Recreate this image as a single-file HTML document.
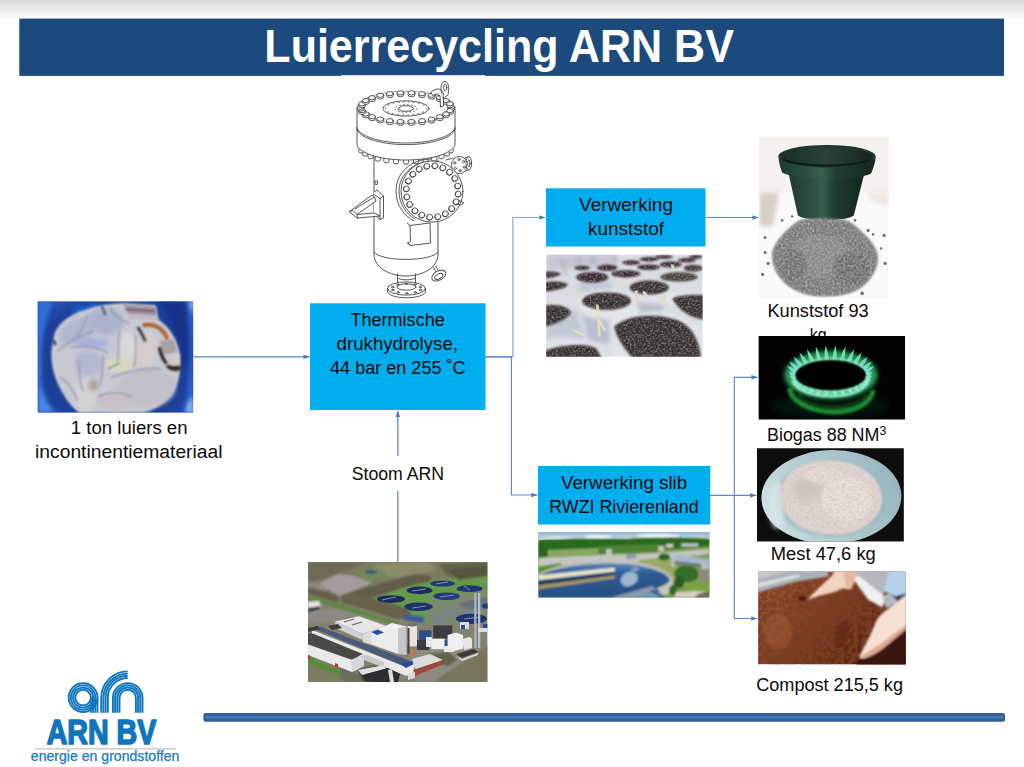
<!DOCTYPE html>
<html lang="nl">
<head>
<meta charset="utf-8">
<title>Luierrecycling ARN BV</title>
<style>
html,body{margin:0;padding:0;background:#fff;}
body{width:1024px;height:767px;overflow:hidden;font-family:"Liberation Sans",sans-serif;}
svg{display:block;}
svg text{font-family:"Liberation Sans",sans-serif;}
</style>
</head>
<body>
<svg width="1024" height="767" viewBox="0 0 1024 767">
<defs>
<linearGradient id="topg" x1="0" y1="0" x2="0" y2="1">
<stop offset="0" stop-color="#d9d9d9"/><stop offset="0.5" stop-color="#ececec"/><stop offset="1" stop-color="#ffffff"/>
</linearGradient>
<linearGradient id="barg" x1="0" y1="0" x2="0" y2="1">
<stop offset="0" stop-color="#2f588a"/><stop offset="0.25" stop-color="#34619a"/><stop offset="0.5" stop-color="#4a80c0"/><stop offset="0.75" stop-color="#34619a"/><stop offset="1" stop-color="#2f588a"/>
</linearGradient>
<marker id="ah" viewBox="0 0 8 6" refX="8" refY="3" markerWidth="6.4" markerHeight="4.6" markerUnits="userSpaceOnUse" orient="auto">
<path d="M0,0 L8,3 L0,6 Z" fill="#4a7ebb"/>
</marker>
<filter id="b1" x="-20%" y="-20%" width="140%" height="140%"><feGaussianBlur stdDeviation="1"/></filter>
<filter id="b2" x="-20%" y="-20%" width="140%" height="140%"><feGaussianBlur stdDeviation="2"/></filter>
<filter id="b3" x="-30%" y="-30%" width="160%" height="160%"><feGaussianBlur stdDeviation="3.5"/></filter>
<filter id="b05" x="-20%" y="-20%" width="140%" height="140%"><feGaussianBlur stdDeviation="0.5"/></filter>
<filter id="b6" x="-40%" y="-40%" width="180%" height="180%"><feGaussianBlur stdDeviation="6"/></filter>
</defs>
<rect x="0" y="0" width="1024" height="767" fill="#ffffff"/>
<rect x="0" y="0" width="1024" height="19" fill="url(#topg)"/>
<g id="banner"><rect x="19.3" y="18.6" width="984.7" height="57.3" fill="#1c4a7c"/>
<text x="499.1" y="62" font-size="45.8" font-weight="bold" fill="#ffffff" text-anchor="middle" textLength="469.5" lengthAdjust="spacingAndGlyphs" >Luierrecycling ARN BV</text></g>
<rect x="341" y="75.2" width="144" height="228" fill="#ffffff"/>
<g id="vessel" fill="none" stroke="#444444" stroke-width="0.9" stroke-linejoin="round" stroke-linecap="round">
<path d="M374,156 V254 C374,268 390,276 406,276 C422,276 438,268 438,254 V222" fill="#fff"/>
<path d="M374,252 C380,262 432,262 438,252"/>
<path d="M438,160 V166"/>
<rect x="375.5" y="181" width="2" height="3.4"/>
<path d="M397.5,274 V283 M415.5,274 V283 M397.5,278 C401,280.5 412,280.5 415.5,278" />
<ellipse cx="406.5" cy="288.5" rx="19" ry="6.6" fill="#fff"/>
<path d="M387.5,288.5 V291 C387.5,300 425.5,300 425.5,291 V288.5"/>
<ellipse cx="406.5" cy="287" rx="9.5" ry="3.2"/>
<ellipse cx="420.4" cy="289.9" rx="1.3" ry="0.7"/>
<ellipse cx="415.2" cy="292.3" rx="1.3" ry="0.7"/>
<ellipse cx="406.7" cy="293.3" rx="1.3" ry="0.7"/>
<ellipse cx="398.1" cy="292.4" rx="1.3" ry="0.7"/>
<ellipse cx="392.8" cy="290.0" rx="1.3" ry="0.7"/>
<ellipse cx="392.6" cy="287.1" rx="1.3" ry="0.7"/>
<ellipse cx="397.8" cy="284.7" rx="1.3" ry="0.7"/>
<ellipse cx="406.3" cy="283.7" rx="1.3" ry="0.7"/>
<ellipse cx="414.9" cy="284.6" rx="1.3" ry="0.7"/>
<ellipse cx="420.2" cy="287.0" rx="1.3" ry="0.7"/>
<path d="M433,267 L436,272 M435.5,266 L438.5,271"/>
<ellipse cx="438.8" cy="275.6" rx="7.6" ry="4.6" transform="rotate(-28 438.8 275.6)" fill="#fff"/>
<ellipse cx="438.8" cy="276.4" rx="4.5" ry="2.4" transform="rotate(-28 438.8 276.4)"/>
<path d="M448.0,149.2 v2.2 a2.6,1.6 0 0 0 5.2,0 v-2.2" fill="#fff"/>
<path d="M444.4,152.3 v2.2 a2.6,1.6 0 0 0 5.2,0 v-2.2" fill="#fff"/>
<path d="M438.8,155.1 v2.2 a2.6,1.6 0 0 0 5.2,0 v-2.2" fill="#fff"/>
<path d="M431.6,157.4 v2.2 a2.6,1.6 0 0 0 5.2,0 v-2.2" fill="#fff"/>
<path d="M423.0,159.1 v2.2 a2.6,1.6 0 0 0 5.2,0 v-2.2" fill="#fff"/>
<path d="M413.4,160.1 v2.2 a2.6,1.6 0 0 0 5.2,0 v-2.2" fill="#fff"/>
<path d="M403.4,160.5 v2.2 a2.6,1.6 0 0 0 5.2,0 v-2.2" fill="#fff"/>
<path d="M393.4,160.1 v2.2 a2.6,1.6 0 0 0 5.2,0 v-2.2" fill="#fff"/>
<path d="M383.8,159.1 v2.2 a2.6,1.6 0 0 0 5.2,0 v-2.2" fill="#fff"/>
<path d="M375.2,157.4 v2.2 a2.6,1.6 0 0 0 5.2,0 v-2.2" fill="#fff"/>
<path d="M368.0,155.1 v2.2 a2.6,1.6 0 0 0 5.2,0 v-2.2" fill="#fff"/>
<path d="M362.4,152.3 v2.2 a2.6,1.6 0 0 0 5.2,0 v-2.2" fill="#fff"/>
<path d="M358.8,149.2 v2.2 a2.6,1.6 0 0 0 5.2,0 v-2.2" fill="#fff"/>
<path d="M357,108 V144 C357,152 378,160 406,160 C434,160 455,152 455,144 V108" fill="#fff"/>
<path d="M357,127 C357,135 378,143 406,143 C434,143 455,135 455,127"/>
<path d="M357,128.6 C357,136.6 378,144.6 406,144.6 C434,144.6 455,136.6 455,128.6"/>
<ellipse cx="406" cy="107.5" rx="48.6" ry="16.2" fill="#fff" stroke-width="0.5"/>
<ellipse cx="406" cy="108.5" rx="23" ry="7.6"/>
<ellipse cx="406" cy="108.5" rx="20.5" ry="6.6" stroke-dasharray="0.8 4.2"/>
<path d="M398,108.5 L402,105.8 L410,105.8 L414,108.5 L410,111.2 L402,111.2 Z"/>
<ellipse cx="406" cy="108.5" rx="11" ry="3.8" stroke-dasharray="0.8 3"/>
<path d="M447.9,107.2 v1.8 a3.4,2.1 0 0 0 6.8,0 v-1.8" fill="#fff"/><ellipse cx="451.3" cy="107.2" rx="3.4" ry="2.1" fill="#fff"/>
<path d="M446.6,110.6 v1.8 a3.4,2.1 0 0 0 6.8,0 v-1.8" fill="#fff"/><ellipse cx="450.0" cy="110.6" rx="3.4" ry="2.1" fill="#fff"/>
<path d="M442.7,113.9 v1.8 a3.4,2.1 0 0 0 6.8,0 v-1.8" fill="#fff"/><ellipse cx="446.1" cy="113.9" rx="3.4" ry="2.1" fill="#fff"/>
<path d="M436.5,116.7 v1.8 a3.4,2.1 0 0 0 6.8,0 v-1.8" fill="#fff"/><ellipse cx="439.9" cy="116.7" rx="3.4" ry="2.1" fill="#fff"/>
<path d="M428.3,119.1 v1.8 a3.4,2.1 0 0 0 6.8,0 v-1.8" fill="#fff"/><ellipse cx="431.7" cy="119.1" rx="3.4" ry="2.1" fill="#fff"/>
<path d="M418.7,120.7 v1.8 a3.4,2.1 0 0 0 6.8,0 v-1.8" fill="#fff"/><ellipse cx="422.1" cy="120.7" rx="3.4" ry="2.1" fill="#fff"/>
<path d="M408.1,121.5 v1.8 a3.4,2.1 0 0 0 6.8,0 v-1.8" fill="#fff"/><ellipse cx="411.5" cy="121.5" rx="3.4" ry="2.1" fill="#fff"/>
<path d="M397.1,121.5 v1.8 a3.4,2.1 0 0 0 6.8,0 v-1.8" fill="#fff"/><ellipse cx="400.5" cy="121.5" rx="3.4" ry="2.1" fill="#fff"/>
<path d="M386.5,120.7 v1.8 a3.4,2.1 0 0 0 6.8,0 v-1.8" fill="#fff"/><ellipse cx="389.9" cy="120.7" rx="3.4" ry="2.1" fill="#fff"/>
<path d="M376.9,119.1 v1.8 a3.4,2.1 0 0 0 6.8,0 v-1.8" fill="#fff"/><ellipse cx="380.3" cy="119.1" rx="3.4" ry="2.1" fill="#fff"/>
<path d="M368.7,116.7 v1.8 a3.4,2.1 0 0 0 6.8,0 v-1.8" fill="#fff"/><ellipse cx="372.1" cy="116.7" rx="3.4" ry="2.1" fill="#fff"/>
<path d="M362.5,113.9 v1.8 a3.4,2.1 0 0 0 6.8,0 v-1.8" fill="#fff"/><ellipse cx="365.9" cy="113.9" rx="3.4" ry="2.1" fill="#fff"/>
<path d="M358.6,110.6 v1.8 a3.4,2.1 0 0 0 6.8,0 v-1.8" fill="#fff"/><ellipse cx="362.0" cy="110.6" rx="3.4" ry="2.1" fill="#fff"/>
<path d="M357.3,107.2 v1.8 a3.4,2.1 0 0 0 6.8,0 v-1.8" fill="#fff"/><ellipse cx="360.7" cy="107.2" rx="3.4" ry="2.1" fill="#fff"/>
<path d="M358.6,103.8 v1.8 a3.4,2.1 0 0 0 6.8,0 v-1.8" fill="#fff"/><ellipse cx="362.0" cy="103.8" rx="3.4" ry="2.1" fill="#fff"/>
<path d="M362.5,100.5 v1.8 a3.4,2.1 0 0 0 6.8,0 v-1.8" fill="#fff"/><ellipse cx="365.9" cy="100.5" rx="3.4" ry="2.1" fill="#fff"/>
<path d="M368.7,97.7 v1.8 a3.4,2.1 0 0 0 6.8,0 v-1.8" fill="#fff"/><ellipse cx="372.1" cy="97.7" rx="3.4" ry="2.1" fill="#fff"/>
<path d="M376.9,95.3 v1.8 a3.4,2.1 0 0 0 6.8,0 v-1.8" fill="#fff"/><ellipse cx="380.3" cy="95.3" rx="3.4" ry="2.1" fill="#fff"/>
<path d="M386.5,93.7 v1.8 a3.4,2.1 0 0 0 6.8,0 v-1.8" fill="#fff"/><ellipse cx="389.9" cy="93.7" rx="3.4" ry="2.1" fill="#fff"/>
<path d="M397.1,92.9 v1.8 a3.4,2.1 0 0 0 6.8,0 v-1.8" fill="#fff"/><ellipse cx="400.5" cy="92.9" rx="3.4" ry="2.1" fill="#fff"/>
<path d="M408.1,92.9 v1.8 a3.4,2.1 0 0 0 6.8,0 v-1.8" fill="#fff"/><ellipse cx="411.5" cy="92.9" rx="3.4" ry="2.1" fill="#fff"/>
<path d="M418.7,93.7 v1.8 a3.4,2.1 0 0 0 6.8,0 v-1.8" fill="#fff"/><ellipse cx="422.1" cy="93.7" rx="3.4" ry="2.1" fill="#fff"/>
<path d="M428.3,95.3 v1.8 a3.4,2.1 0 0 0 6.8,0 v-1.8" fill="#fff"/><ellipse cx="431.7" cy="95.3" rx="3.4" ry="2.1" fill="#fff"/>
<path d="M436.5,97.7 v1.8 a3.4,2.1 0 0 0 6.8,0 v-1.8" fill="#fff"/><ellipse cx="439.9" cy="97.7" rx="3.4" ry="2.1" fill="#fff"/>
<path d="M442.7,100.5 v1.8 a3.4,2.1 0 0 0 6.8,0 v-1.8" fill="#fff"/><ellipse cx="446.1" cy="100.5" rx="3.4" ry="2.1" fill="#fff"/>
<path d="M446.6,103.8 v1.8 a3.4,2.1 0 0 0 6.8,0 v-1.8" fill="#fff"/><ellipse cx="450.0" cy="103.8" rx="3.4" ry="2.1" fill="#fff"/>
<path d="M431,92 C436,88 441,88 443,92 L443.5,106 L440.5,107 L440,96 C438,93 436,93.5 433,95.5 Z" fill="#fff"/>
<path d="M441.5,93 C440,86 442,81.5 445,81.5 C448.5,81.5 449.5,88 448,95 L445,97" />
<ellipse cx="445.2" cy="87.5" rx="1.6" ry="3.4"/>
<path d="M446,160 L453,158 M448,171 L454,172"/>
<ellipse cx="459.5" cy="165" rx="8" ry="8.6" fill="#fff"/>
<circle cx="464.3" cy="167.2" r="1.1"/>
<circle cx="460.1" cy="170.6" r="1.1"/>
<circle cx="455.4" cy="168.4" r="1.1"/>
<circle cx="454.7" cy="162.8" r="1.1"/>
<circle cx="458.9" cy="159.4" r="1.1"/>
<circle cx="463.6" cy="161.6" r="1.1"/>
<path d="M465,158 L468,157 M466,171 L468.5,170"/>
<ellipse cx="468.8" cy="163.4" rx="2.8" ry="6.6" fill="#fff"/>
<ellipse cx="468.8" cy="163.4" rx="1.2" ry="3.6"/>
<path d="M431,159 C412,159 396,172 396,191 C396,205 404,216 414,221"/>
<path d="M431,161.5 C414,161.5 399,174 399,191 C399,204 406,214 415,219"/>
<ellipse cx="432" cy="191.5" rx="31" ry="30.6" fill="#fff"/>
<circle cx="458.2" cy="194.1" r="3" fill="#fff"/><path d="M456.0,192.5 a2.6,2.6 0 0 0 3.6,3.8"/>
<circle cx="456.1" cy="201.9" r="3" fill="#fff"/><path d="M453.9,200.3 a2.6,2.6 0 0 0 3.6,3.8"/>
<circle cx="451.7" cy="208.7" r="3" fill="#fff"/><path d="M449.5,207.1 a2.6,2.6 0 0 0 3.6,3.8"/>
<circle cx="445.4" cy="213.8" r="3" fill="#fff"/><path d="M443.2,212.2 a2.6,2.6 0 0 0 3.6,3.8"/>
<circle cx="437.8" cy="216.7" r="3" fill="#fff"/><path d="M435.6,215.1 a2.6,2.6 0 0 0 3.6,3.8"/>
<circle cx="429.7" cy="217.2" r="3" fill="#fff"/><path d="M427.5,215.6 a2.6,2.6 0 0 0 3.6,3.8"/>
<circle cx="421.8" cy="215.1" r="3" fill="#fff"/><path d="M419.6,213.5 a2.6,2.6 0 0 0 3.6,3.8"/>
<circle cx="415.0" cy="210.8" r="3" fill="#fff"/><path d="M412.8,209.2 a2.6,2.6 0 0 0 3.6,3.8"/>
<circle cx="409.8" cy="204.5" r="3" fill="#fff"/><path d="M407.6,202.9 a2.6,2.6 0 0 0 3.6,3.8"/>
<circle cx="406.9" cy="197.0" r="3" fill="#fff"/><path d="M404.7,195.4 a2.6,2.6 0 0 0 3.6,3.8"/>
<circle cx="406.4" cy="188.9" r="3" fill="#fff"/><path d="M404.2,187.3 a2.6,2.6 0 0 0 3.6,3.8"/>
<circle cx="408.5" cy="181.1" r="3" fill="#fff"/><path d="M406.3,179.5 a2.6,2.6 0 0 0 3.6,3.8"/>
<circle cx="412.9" cy="174.3" r="3" fill="#fff"/><path d="M410.7,172.7 a2.6,2.6 0 0 0 3.6,3.8"/>
<circle cx="419.2" cy="169.2" r="3" fill="#fff"/><path d="M417.0,167.6 a2.6,2.6 0 0 0 3.6,3.8"/>
<circle cx="426.8" cy="166.3" r="3" fill="#fff"/><path d="M424.6,164.7 a2.6,2.6 0 0 0 3.6,3.8"/>
<circle cx="434.9" cy="165.8" r="3" fill="#fff"/><path d="M432.7,164.2 a2.6,2.6 0 0 0 3.6,3.8"/>
<circle cx="442.8" cy="167.9" r="3" fill="#fff"/><path d="M440.6,166.3 a2.6,2.6 0 0 0 3.6,3.8"/>
<circle cx="449.6" cy="172.2" r="3" fill="#fff"/><path d="M447.4,170.6 a2.6,2.6 0 0 0 3.6,3.8"/>
<circle cx="454.8" cy="178.5" r="3" fill="#fff"/><path d="M452.6,176.9 a2.6,2.6 0 0 0 3.6,3.8"/>
<circle cx="457.7" cy="186.0" r="3" fill="#fff"/><path d="M455.5,184.4 a2.6,2.6 0 0 0 3.6,3.8"/>
<path d="M459,200 L464,203 L461,205 L457,204"/>
<path d="M407.5,223.5 L410,225.5 L430,223 L430.5,243 L411,245.5 L407.5,243 L410.5,241.5 L410,225.5" fill="#fff"/>
<path d="M407.5,243 L410.8,245.6"/>
<path d="M374,192 L377,190 L383.5,196 L383.5,218 L380,219.5 L374,214" fill="#fff"/>
<path d="M380,198.5 L380,219.5 M374,194.5 L380,198.5 L383.5,196"/>
<path d="M349.5,211.5 L372,195 L374.5,197 L376,201 L357,214.5 L374,213 L380,216 L357.5,218 Z" fill="#fff"/>
<path d="M349.5,211.5 L353,210.5 L357,214.5 M355,209 L374.5,197 M357.5,218 L357,214.5"/>
</g>
<g id="connectors" fill="none" stroke="#5b8bc6" stroke-width="1.15">
<path d="M193.5,356.8 H309.5" marker-end="url(#ah)"/>
<path d="M485.5,356.8 H512.9 V217.5 H545.5" stroke="#7ea3d4" marker-end="url(#ah)"/>
<path d="M485.5,356.8 H511.4 V495 H537.5" marker-end="url(#ah)"/>
<path d="M705.5,217.5 H758.5" marker-end="url(#ah)"/>
<path d="M710,495.4 H756.2" marker-end="url(#ah)"/>
<path d="M734.3,495.4 V377.3 H757.6" marker-end="url(#ah)"/>
<path d="M734.3,495.4 V618.5 H757.4" marker-end="url(#ah)"/>
<path d="M397.8,456 V411" stroke="#7aa2d6" stroke-width="1.6" marker-end="url(#ah)"/>
<path d="M397.8,491.3 V562" stroke="#7aa2d6" stroke-width="1.6"/>
</g>
<g id="box-hydrolyse"><rect x="310" y="303.3" width="175.5" height="106.7" fill="#00adef"/>
<text x="397.6" y="326.3" font-size="18" font-weight="normal" fill="#0a0a0a" text-anchor="middle" textLength="94.3" lengthAdjust="spacingAndGlyphs" >Thermische</text><text x="397.3" y="350" font-size="18" font-weight="normal" fill="#0a0a0a" text-anchor="middle" textLength="121.5" lengthAdjust="spacingAndGlyphs" >drukhydrolyse,</text><text x="397.8" y="373.8" font-size="18" font-weight="normal" fill="#0a0a0a" text-anchor="middle" textLength="135.5" lengthAdjust="spacingAndGlyphs" >44 bar en 255 ˚C</text></g>
<g id="box-kunststof"><rect x="546" y="188.3" width="159.5" height="58.2" fill="#00adef"/>
<text x="626" y="211.3" font-size="18" font-weight="normal" fill="#0a0a0a" text-anchor="middle" textLength="94" lengthAdjust="spacingAndGlyphs" >Verwerking</text><text x="626" y="235" font-size="18" font-weight="normal" fill="#0a0a0a" text-anchor="middle" textLength="76" lengthAdjust="spacingAndGlyphs" >kunststof</text></g>
<g id="box-slib"><rect x="538" y="466" width="172.3" height="58.5" fill="#00adef"/>
<text x="624.1" y="489.3" font-size="18" font-weight="normal" fill="#0a0a0a" text-anchor="middle" textLength="126.3" lengthAdjust="spacingAndGlyphs" >Verwerking slib</text><text x="623.9" y="512.5" font-size="18" font-weight="normal" fill="#0a0a0a" text-anchor="middle" textLength="149.3" lengthAdjust="spacingAndGlyphs" >RWZI Rivierenland</text></g>
<g id="labels">
<text x="129.2" y="433.8" font-size="18" font-weight="normal" fill="#0a0a0a" text-anchor="middle" textLength="116.7" lengthAdjust="spacingAndGlyphs" >1 ton luiers en</text><text x="128.8" y="457.5" font-size="18" font-weight="normal" fill="#0a0a0a" text-anchor="middle" textLength="187.5" lengthAdjust="spacingAndGlyphs" >incontinentiemateriaal</text><text x="397.9" y="479.5" font-size="18" font-weight="normal" fill="#0a0a0a" text-anchor="middle" textLength="92.3" lengthAdjust="spacingAndGlyphs" >Stoom ARN</text><text x="818.1" y="317" font-size="18" font-weight="normal" fill="#0a0a0a" text-anchor="middle" textLength="101.3" lengthAdjust="spacingAndGlyphs" >Kunststof 93</text><text x="818.3" y="341" font-size="18" font-weight="normal" fill="#0a0a0a" text-anchor="middle" textLength="17" lengthAdjust="spacingAndGlyphs" >kg</text><text x="767" y="441.3" font-size="18" fill="#0a0a0a" textLength="119.3" lengthAdjust="spacingAndGlyphs">Biogas 88 NM<tspan font-size="12.5" dy="-6.5">3</tspan></text><text x="823.3" y="560.3" font-size="18" font-weight="normal" fill="#0a0a0a" text-anchor="middle" textLength="105" lengthAdjust="spacingAndGlyphs" >Mest 47,6 kg</text><text x="829.6" y="691.3" font-size="18" font-weight="normal" fill="#0a0a0a" text-anchor="middle" textLength="146.8" lengthAdjust="spacingAndGlyphs" >Compost 215,5 kg</text></g>
<svg id="photo-diapers" x="37.5" y="301.2" width="155.8" height="111.6" viewBox="0 0 155.8 111.6">
<defs>
<radialGradient id="dpbin" cx="0.5" cy="0.55" r="0.75">
<stop offset="0" stop-color="#18357e"/><stop offset="0.7" stop-color="#1c409a"/><stop offset="1" stop-color="#2858c0"/>
</radialGradient>
</defs>
<rect width="155.8" height="111.6" fill="url(#dpbin)"/>
<g filter="url(#b2)">
<path d="M0,0 H16 C6,20 2,50 4,80 C6,95 12,105 18,111.6 H0 Z" fill="#2f6fd8"/>
<path d="M0,10 C2,30 0,50 3,70 L0,80 Z" fill="#4a94f4"/>
<path d="M2,70 C2,90 8,104 18,111.6 H0 Z" fill="#4a8ae8"/>
<path d="M34,8 L58,2 L62,8 L40,16 Z" fill="#2464d0"/>
<path d="M118,0 H148 C152,20 152,50 150,70 C140,40 135,15 118,0 Z" fill="#16328a"/>
<path d="M150,0 H155.8 V111.6 H146 C153,80 155,40 150,0 Z" fill="#2c62d0"/>
<path d="M153,0 H155.8 V14 Z" fill="#e8eefa"/>
<path d="M151,102 L155.8,94 V111.6 H148 Z" fill="#8cbcf8"/>
</g>
<g filter="url(#b1)">
<path d="M17,32 C22,20 35,12 47,9 C60,4 75,2 86,2 L118,4 L121,18 C132,26 140,38 142,52 C144,68 142,82 135,92 C128,102 118,108 106,111.6 H42 C34,106 28,98 22,86 C16,74 13,60 14,48 Z" fill="#c8c9d4"/>
</g>
<g filter="url(#b2)">
<ellipse cx="40" cy="30" rx="20" ry="12" fill="#b2b7cf" transform="rotate(-30 40 30)"/>
<ellipse cx="68" cy="20" rx="18" ry="14" fill="#aeb3cc"/>
<ellipse cx="55" cy="42" rx="16" ry="5" fill="#a8aede"/>
<ellipse cx="50" cy="62" rx="16" ry="12" fill="#b4b8d0"/>
<ellipse cx="28" cy="62" rx="10" ry="18" fill="#c8c8d2"/>
<ellipse cx="108" cy="50" rx="11" ry="20" fill="#d4cccc" transform="rotate(15 108 50)"/>
<ellipse cx="90" cy="46" rx="9" ry="15" fill="#dad8d8"/>
<ellipse cx="110" cy="86" rx="28" ry="20" fill="#c2c0c8"/>
<ellipse cx="48" cy="94" rx="11" ry="16" fill="#d4d2d2"/>
<ellipse cx="78" cy="100" rx="18" ry="10" fill="#c8c0c4"/>
<ellipse cx="82" cy="64" rx="14" ry="8" fill="#d8d6c4"/>
<ellipse cx="56" cy="84" rx="5" ry="6" fill="#aaa492"/>
</g>
<g filter="url(#b1)" fill="none" stroke="#989cb2" stroke-width="1.5">
<path d="M20,50 C30,40 44,34 56,30"/>
<path d="M50,14 C46,24 44,32 36,40"/>
<path d="M34,46 C50,44 62,46 70,52"/>
<path d="M40,58 C44,70 40,80 46,90"/>
<path d="M66,54 C64,66 66,74 62,84"/>
<path d="M82,30 C80,42 82,54 80,60"/>
<path d="M98,34 C98,48 100,58 96,66"/>
<path d="M74,76 C90,70 106,66 124,68"/>
<path d="M60,96 C70,90 84,90 94,96"/>
<path d="M22,76 C30,80 36,88 40,100"/>
<path d="M72,6 C76,14 84,20 92,22"/>
</g>
<g filter="url(#b1)">
<path d="M86,3 L118,5 L120,18 L92,16 Z" fill="#a898a8"/>
<path d="M88,8 L118,10" stroke="#6a5060" stroke-width="2" fill="none"/>
<path d="M90,14 L119,16" stroke="#d0c8d0" stroke-width="2" fill="none"/>
<path d="M100,26 C104,30 105,36 108,40" stroke="#2a2a30" stroke-width="2.5" fill="none"/>
<path d="M105,24 C118,22 126,28 130,38" stroke="#b0642a" stroke-width="4" fill="none"/>
<path d="M122,40 L136,38 L140,50 L126,54 Z" fill="#a8a0a4"/>
<path d="M122,46 C124,56 126,60 130,62" stroke="#2a2018" stroke-width="3.5" fill="none"/>
<path d="M130,64 C134,68 140,68 143,66" stroke="#3a2a1c" stroke-width="5" fill="none"/>
<path d="M128,56 L142,52 L142,62 L132,64 Z" fill="#d0ccc4"/>
<path d="M64,4 C66,8 67,12 68,14" stroke="#4a5a80" stroke-width="2.2" fill="none"/>
<path d="M70,68 C74,66 78,64 82,62" stroke="#6a9a7a" stroke-width="1.5" fill="none"/>
<path d="M16,39 L18,44" stroke="#1a1a30" stroke-width="2" fill="none"/>
</g>
</svg>
<svg id="photo-bags" x="546.2" y="254.6" width="156.4" height="102.1" viewBox="0 0 156.4 102.1">
<defs>
<filter id="grainB" x="0" y="0" width="100%" height="100%">
<feGaussianBlur in="SourceAlpha" stdDeviation="1" result="sa"/>
<feTurbulence type="fractalNoise" baseFrequency="0.5" numOctaves="2" seed="5" result="n"/>
<feColorMatrix in="n" type="matrix" values="0 0 0 0 0.50  0 0 0 0 0.46  0 0 0 0 0.48  2.2 2.2 0 0 -2.0"/>
<feComposite in2="sa" operator="in"/>
</filter>
</defs>
<rect width="156.4" height="102.1" fill="#dadde2"/>
<g filter="url(#b2)">
<rect x="0" y="0" width="70" height="14" fill="#c4c8d2"/>
<path d="M16,5 L20,22 M32,2 L34,12 M46,0 L47,10 M69,0 L70,9" stroke="#8e96a4" stroke-width="1.5" fill="none"/>
<path d="M34,42 C40,36 80,34 90,44 L92,58 C80,66 50,66 36,58 Z" fill="#e4e6ea"/>
<path d="M36,60 C50,68 80,66 90,58 L86,84 C74,90 50,90 42,84 Z" fill="#b6c0d0"/>
<path d="M0,66 L30,56 L38,84 L0,90 Z" fill="#c2c8d4"/>
<path d="M62,66 C80,54 130,54 152,72 L156.4,78 V102.1 H66 Z" fill="#e2e4e8"/>
<path d="M0,84 C20,80 48,82 64,102.1 H0 Z" fill="#e0e2e6"/>
<path d="M80,36 C90,30 116,30 128,38 L124,50 L96,54 L88,48 Z" fill="#dfe1e6"/>
<path d="M90,48 L120,50 L116,56 L94,58 Z" fill="#b8c0cc"/>
<path d="M30,30 C40,24 60,24 66,30 L66,34 L34,38 Z" fill="#c4cad6"/>
<path d="M120,40 C132,36 150,38 156.4,44 V52 L122,50 Z" fill="#e6e8ea"/>
</g>
<g filter="url(#b1)" fill="#383230">
<path d="M68,72 C82,60 110,58 132,66 C146,72 154,86 155,108 H90 C76,92 70,82 68,72 Z"/>
<ellipse cx="60.4" cy="46.5" rx="24.4" ry="8.7"/>
<path d="M-6,52 C10,48 22,52 25,58 C20,66 8,70 -6,73 Z"/>
<path d="M-6,97.5 C14,90 40,88 50,94 L58,108 H-6 Z"/>
<path d="M126,44 C134,40 148,40 163,41 V66 C146,64 134,58 126,44 Z"/>
<ellipse cx="103" cy="33" rx="19.5" ry="7"/>
<ellipse cx="46" cy="22.7" rx="16" ry="5.2" fill="#3a2a30"/>
<path d="M-6,28 C8,26 18,27 22,30 C18,35 8,36 -6,37.5 Z"/>
<path d="M-6,18 C6,16 12,17 15,19.5 C12,22 6,23.5 -6,24.5 Z" fill="#3e3440"/>
<ellipse cx="79.6" cy="19.2" rx="14.5" ry="3.6" fill="#3a2c32"/>
<ellipse cx="132.8" cy="22.3" rx="18.7" ry="4.6" fill="#46423c"/>
<ellipse cx="61" cy="13.2" rx="10.2" ry="3" fill="#3c2a30"/>
<ellipse cx="36" cy="13.4" rx="8" ry="2.2" fill="#40303a"/>
<ellipse cx="102.4" cy="12.6" rx="11.6" ry="2.8" fill="#382a32"/>
<ellipse cx="124.4" cy="9.8" rx="11" ry="3" fill="#3a2e34"/>
<ellipse cx="147" cy="13.6" rx="9.5" ry="3.4" fill="#403a38"/>
<ellipse cx="85" cy="8" rx="9" ry="2.4" fill="#3a2a34"/>
<ellipse cx="102.8" cy="4.6" rx="9.5" ry="2.2" fill="#3a2a30"/>
<ellipse cx="117.8" cy="2.2" rx="8.7" ry="1.9" fill="#3e2c30"/>
<ellipse cx="140.6" cy="5.6" rx="9" ry="2.2" fill="#3c2c32"/>
<ellipse cx="149.7" cy="2.2" rx="6.6" ry="1.9" fill="#402e32"/>
</g>
<g filter="url(#grainB)" opacity="0.5" fill="#383230">
<path d="M68,72 C82,60 110,58 132,66 C146,72 154,86 155,108 H90 C76,92 70,82 68,72 Z"/>
<ellipse cx="60.4" cy="46.5" rx="24.4" ry="8.7"/>
<path d="M-6,52 C10,48 22,52 25,58 C20,66 8,70 -6,73 Z"/>
<path d="M-6,97.5 C14,90 40,88 50,94 L58,108 H-6 Z"/>
<path d="M126,44 C134,40 148,40 163,41 V66 C146,64 134,58 126,44 Z"/>
<ellipse cx="103" cy="33" rx="19.5" ry="7"/>
<ellipse cx="46" cy="22.7" rx="16" ry="5.2"/>
<path d="M-6,28 C8,26 18,27 22,30 C18,35 8,36 -6,37.5 Z"/>
<path d="M-6,18 C6,16 12,17 15,19.5 C12,22 6,23.5 -6,24.5 Z"/>
<ellipse cx="79.6" cy="19.2" rx="14.5" ry="3.6"/>
<ellipse cx="132.8" cy="22.3" rx="18.7" ry="4.6"/>
<ellipse cx="61" cy="13.2" rx="10.2" ry="3"/>
<ellipse cx="36" cy="13.4" rx="8" ry="2.2"/>
<ellipse cx="102.4" cy="12.6" rx="11.6" ry="2.8"/>
<ellipse cx="124.4" cy="9.8" rx="11" ry="3"/>
<ellipse cx="147" cy="13.6" rx="9.5" ry="3.4"/>
<ellipse cx="85" cy="8" rx="9" ry="2.4"/>
<ellipse cx="102.8" cy="4.6" rx="9.5" ry="2.2"/>
<ellipse cx="117.8" cy="2.2" rx="8.7" ry="1.9"/>
<ellipse cx="140.6" cy="5.6" rx="9" ry="2.2"/>
<ellipse cx="149.7" cy="2.2" rx="6.6" ry="1.9"/>
</g>
<g filter="url(#b05)" stroke="#e2dcc0" stroke-width="2.6" fill="none">
<path d="M51,50 L52.5,66 L59,76"/>
<path d="M52.5,66 L53,82"/>
<path d="M28,76 L38,81"/>
<path d="M90,36 L91,50"/>
<path d="M97,37 L101,42"/>
<path d="M75,26 L76,32"/>
<path d="M119,40 L116,50"/>
<path d="M30,36 L32,44"/>
<path d="M126,10 L127,15"/>
</g>
</svg>
<svg id="photo-pot" x="759.1" y="136.4" width="129.6" height="161.3" viewBox="0 0 129.6 161.3">
<defs>
<linearGradient id="potbody" x1="0" y1="0" x2="1" y2="0">
<stop offset="0" stop-color="#1f3a2f"/><stop offset="0.3" stop-color="#2c5042"/><stop offset="0.45" stop-color="#35604f"/><stop offset="0.6" stop-color="#1f3d31"/><stop offset="1" stop-color="#14261f"/>
</linearGradient>
<linearGradient id="potin" x1="0" y1="0" x2="1" y2="0">
<stop offset="0" stop-color="#1a2e26"/><stop offset="0.5" stop-color="#2a4238"/><stop offset="1" stop-color="#14241e"/>
</linearGradient>
<filter id="grain" x="0" y="0" width="100%" height="100%">
<feTurbulence type="fractalNoise" baseFrequency="0.45" numOctaves="2" seed="7" result="n"/>
<feColorMatrix in="n" type="matrix" values="0 0 0 0 0.45  0 0 0 0 0.45  0 0 0 0 0.45  1.6 1.6 0 0 -1.25"/>
<feComposite in2="SourceGraphic" operator="in"/>
</filter>
</defs>
<rect width="129.6" height="161.3" fill="#fbfafa"/>
<rect width="129.6" height="56" fill="#f5f1ef"/>
<g filter="url(#b2)">
<path d="M0,56 H20 L14,90 H0 Z" fill="#d9d0c9"/>
<path d="M108,56 H129.6 V70 L112,64 Z" fill="#eee8e4"/>
</g>
<g filter="url(#b05)">
<path d="M29.7,38 L38.8,79 C46,85 88,85 94.7,79 L105,38 Z" fill="url(#potbody)"/>
<path d="M19.5,19.8 C19.5,26 21.5,32 23,36 C36,44 100,44 112,37 C114,32 116.5,26 116.5,19.8 Z" fill="url(#potbody)"/>
<ellipse cx="67.8" cy="19.8" rx="48.6" ry="11.2" fill="#1f382e"/>
<ellipse cx="67.8" cy="20.6" rx="45.5" ry="9.6" fill="url(#potin)"/>
<path d="M24,23 C40,31 95,31 112,23" stroke="#0f1c17" stroke-width="2" fill="none"/>
</g>
<g filter="url(#b1)">
<path d="M40,84 C48,81 82,81 90,85 C100,92 114,104 118,116 C121,128 114,142 102,151 C94,157 80,160 66,160 C52,160 40,157 30,150 C20,143 12,130 13,118 C14,106 28,92 40,84 Z" fill="#777777"/>
<ellipse cx="60" cy="120" rx="30" ry="22" fill="#868686"/>
<ellipse cx="92" cy="132" rx="18" ry="16" fill="#6a6a6a"/>
<ellipse cx="34" cy="128" rx="14" ry="16" fill="#6e6e6e"/>
</g>
<path d="M40,84 C48,81 82,81 90,85 C100,92 114,104 118,116 C121,128 114,142 102,151 C94,157 80,160 66,160 C52,160 40,157 30,150 C20,143 12,130 13,118 C14,106 28,92 40,84 Z" fill="#c8c8c8" filter="url(#grain)" opacity="0.8"/>
<g fill="#707070" filter="url(#b05)">
<circle cx="6" cy="101" r="1.5"/><circle cx="6" cy="116" r="1.5"/><circle cx="3.5" cy="138" r="1.6"/><circle cx="9" cy="127" r="1.6"/><circle cx="23" cy="84" r="1.4"/><circle cx="33" cy="80" r="1.2"/>
<circle cx="109" cy="94" r="1.6"/><circle cx="125" cy="99" r="1.6"/><circle cx="126" cy="127" r="1.7"/><circle cx="114" cy="98" r="1.3"/><circle cx="103" cy="157" r="1.8"/><circle cx="96" cy="84" r="1.3"/><circle cx="122" cy="112" r="1.2"/>
</g>
</svg>
<svg id="photo-flame" x="758.4" y="336" width="146.8" height="83.5" viewBox="0 0 146.8 83.5">
<rect width="146.8" height="84" fill="#020302"/>
<g filter="url(#b3)"><ellipse cx="72" cy="70" rx="60" ry="12" fill="#06200c" opacity="0.7"/></g>
<g filter="url(#b1)" fill="none">
<path d="M31,52 C34,70 60,76 76,76 C96,76 112,68 115,54" stroke="#1f8a32" stroke-width="5"/>
<path d="M40,58 C46,68 62,71 76,71 C90,71 104,66 108,58" stroke="#0c3a14" stroke-width="3"/>
</g>
<g filter="url(#b2)" fill="none"><ellipse cx="72.5" cy="39" rx="42" ry="19.5" stroke="#2a9a56" stroke-width="9"/></g>
<g filter="url(#b05)">
<path d="M109.4,41.5 Q112.3,39.4 114.2,35.8 Q110.1,35.9 107.0,37.5 Z" fill="#74d6c8"/>
<path d="M108.4,44.8 Q111.6,43.0 114.0,39.5 Q109.8,39.2 106.4,40.7 Z" fill="#74d6c8"/>
<path d="M103.8,47.7 Q106.5,49.2 110.1,49.0 Q108.7,45.7 106.3,43.9 Z" fill="#74d6c8"/>
<path d="M100.0,50.5 Q102.5,52.0 106.2,52.1 Q105.0,48.7 102.7,46.7 Z" fill="#74d6c8"/>
<path d="M94.8,52.8 Q97.2,54.6 100.8,55.0 Q99.9,51.4 97.8,49.3 Z" fill="#8eecd0"/>
<path d="M88.5,54.4 Q90.6,56.5 94.1,57.5 Q93.7,53.9 91.9,51.4 Z" fill="#8eecd0"/>
<path d="M81.3,55.3 Q82.9,57.9 86.1,59.5 Q86.6,55.9 85.4,53.2 Z" fill="#8eecd0"/>
<path d="M73.7,55.3 Q74.5,58.2 77.0,60.8 Q78.5,57.5 78.2,54.5 Z" fill="#8eecd0"/>
<path d="M66.2,54.5 Q65.9,57.5 67.4,60.8 Q69.9,58.2 70.7,55.3 Z" fill="#8eecd0"/>
<path d="M59.0,53.2 Q57.8,55.9 58.3,59.5 Q61.5,57.9 63.1,55.3 Z" fill="#8eecd0"/>
<path d="M52.5,51.4 Q50.7,53.9 50.3,57.5 Q53.8,56.5 55.9,54.4 Z" fill="#8eecd0"/>
<path d="M46.6,49.3 Q44.5,51.4 43.6,55.0 Q47.2,54.6 49.6,52.8 Z" fill="#8eecd0"/>
<path d="M41.7,46.7 Q39.4,48.7 38.2,52.1 Q41.9,52.0 44.4,50.5 Z" fill="#74d6c8"/>
<path d="M38.1,43.9 Q35.7,45.7 34.3,49.0 Q37.9,49.2 40.6,47.7 Z" fill="#74d6c8"/>
<path d="M38.0,40.7 Q34.6,39.2 30.4,39.5 Q32.8,43.0 36.0,44.8 Z" fill="#74d6c8"/>
<path d="M37.4,37.5 Q34.3,35.9 30.2,35.8 Q32.1,39.4 35.0,41.5 Z" fill="#74d6c8"/>
<path d="M38.4,34.4 Q34.1,31.5 28.8,30.1 Q31.6,34.8 35.6,38.1 Z" fill="#74d6c8"/>
<path d="M40.9,31.5 Q36.6,27.8 31.0,25.4 Q33.7,30.8 37.7,34.9 Z" fill="#74d6c8"/>
<path d="M44.8,28.9 Q40.7,24.3 35.1,20.8 Q37.5,26.9 41.3,31.9 Z" fill="#74d6c8"/>
<path d="M50.1,26.8 Q46.3,21.2 41.0,16.6 Q42.8,23.4 46.2,29.2 Z" fill="#6fdcae"/>
<path d="M56.3,25.2 Q53.2,18.7 48.5,13.1 Q49.5,20.4 52.1,27.0 Z" fill="#6fdcae"/>
<path d="M63.3,24.2 Q61.2,17.1 57.4,10.5 Q57.2,18.2 58.8,25.3 Z" fill="#6fdcae"/>
<path d="M70.7,23.9 Q69.9,16.5 67.2,9.2 Q65.7,16.8 66.1,24.3 Z" fill="#6fdcae"/>
<path d="M78.3,24.3 Q78.7,16.8 77.2,9.2 Q74.5,16.5 73.7,23.9 Z" fill="#6fdcae"/>
<path d="M85.6,25.3 Q87.2,18.2 87.0,10.5 Q83.2,17.1 81.1,24.2 Z" fill="#6fdcae"/>
<path d="M92.3,27.0 Q94.9,20.4 95.9,13.1 Q91.2,18.7 88.1,25.2 Z" fill="#6fdcae"/>
<path d="M98.2,29.2 Q101.6,23.4 103.4,16.6 Q98.1,21.2 94.3,26.8 Z" fill="#6fdcae"/>
<path d="M103.1,31.9 Q106.9,26.9 109.3,20.8 Q103.7,24.3 99.6,28.9 Z" fill="#74d6c8"/>
<path d="M106.7,34.9 Q110.7,30.8 113.4,25.4 Q107.8,27.8 103.5,31.5 Z" fill="#74d6c8"/>
<path d="M108.8,38.1 Q112.8,34.8 115.6,30.1 Q110.3,31.5 106.0,34.4 Z" fill="#74d6c8"/>
</g>
<g filter="url(#b1)" fill="none">
<ellipse cx="72.3" cy="39.5" rx="37" ry="16.5" stroke="#7fe4c0" stroke-width="3"/>
<path d="M34,44 C38,55 56,60 73,60 C92,60 108,54 111,42" stroke="#9af0d4" stroke-width="3"/>
</g>
<ellipse cx="72.2" cy="39" rx="34.5" ry="14.6" fill="#020402" filter="url(#b1)"/>
</svg>
<svg id="photo-plate" x="756.8" y="448.2" width="147.1" height="93.3" viewBox="0 -0.7 147.1 93.3">
<defs>
<linearGradient id="plg" x1="0" y1="0.6" x2="1" y2="0.3">
<stop offset="0" stop-color="#cfe0e2"/><stop offset="0.25" stop-color="#bcd2d6"/><stop offset="0.7" stop-color="#a6c2ca"/><stop offset="1" stop-color="#94b4be"/>
</linearGradient>
<filter id="grain2" x="0" y="0" width="100%" height="100%">
<feTurbulence type="fractalNoise" baseFrequency="0.4" numOctaves="2" seed="3" result="n"/>
<feColorMatrix in="n" type="matrix" values="0 0 0 0 0.62  0 0 0 0 0.55  0 0 0 0 0.55  1.8 1.8 0 0 -1.5"/>
<feComposite in2="SourceGraphic" operator="in"/>
</filter>
</defs>
<rect y="-1" width="147.1" height="94" fill="#0d0d0e"/>
<g filter="url(#b05)">
<ellipse cx="74.6" cy="48.2" rx="70" ry="47" fill="url(#plg)" transform="rotate(-1.5 74.6 48.2)"/>
</g>
<g filter="url(#b2)">
<ellipse cx="74.6" cy="50" rx="56" ry="38" fill="#9bb6be" opacity="0.8"/>
<ellipse cx="20" cy="56" rx="8" ry="24" fill="#d8e6e8" opacity="0.8"/>
</g>
<g filter="url(#b1)">
<path d="M24,42 C26,28 40,16 56,13 C72,10 92,12 106,20 C118,27 126,40 125,52 C124,66 112,78 96,83 C82,87 62,86 48,80 C34,74 22,60 24,42 Z" fill="#e2d6d2"/>
<ellipse cx="50" cy="40" rx="14" ry="12" fill="#d0c2be" filter="url(#b3)"/>
<ellipse cx="90" cy="50" rx="26" ry="22" fill="#ecdfda"/>
<ellipse cx="66" cy="26" rx="20" ry="8" fill="#e8dcd8"/>
</g>
<path d="M24,42 C26,28 40,16 56,13 C72,10 92,12 106,20 C118,27 126,40 125,52 C124,66 112,78 96,83 C82,87 62,86 48,80 C34,74 22,60 24,42 Z" fill="#fff" filter="url(#grain2)" opacity="0.7"/>
</svg>
<svg id="photo-compost" x="758.1" y="571.4" width="147.7" height="93" viewBox="0 0 147.7 93">
<defs>
<linearGradient id="cpg" x1="0" y1="0" x2="1" y2="0.6">
<stop offset="0" stop-color="#a0583a"/><stop offset="0.4" stop-color="#8c4426"/><stop offset="0.75" stop-color="#6e2e14"/><stop offset="1" stop-color="#4e1e0c"/>
</linearGradient>
<filter id="grain3" x="0" y="0" width="100%" height="100%">
<feTurbulence type="fractalNoise" baseFrequency="0.22" numOctaves="3" seed="11" result="n"/>
<feColorMatrix in="n" type="matrix" values="0 0 0 0 0.18  0 0 0 0 0.05  0 0 0 0 0.02  3 3 0 0 -2.4"/>
<feComposite in2="SourceGraphic" operator="in"/>
</filter>
</defs>
<rect width="147.7" height="93" fill="url(#cpg)"/>
<rect width="147.7" height="93" fill="#fff" filter="url(#grain3)" opacity="0.9"/>
<g filter="url(#b1)">
<path d="M-6,-6 H70 V5 L38,10 L-6,22.5 Z" fill="#a9b2ba"/>
<path d="M-6,9.5 L30,0 L30,-6 H-6 Z" fill="#c6c8c8"/>
<path d="M-6,13.3 L40,3 L42,5 L-6,17.5 Z" fill="#dfe3e6"/>
<path d="M95,-6 H134 L126,22 L118,30 L95,0 Z" fill="#b4b8bc"/>
<path d="M94,6 L100,4 L128,26 L124,36 L110,28 Z" fill="#eef0f0"/>
<path d="M124,24 L132,22 L140,30 L128,37 Z" fill="#b0bcc8"/>
<path d="M132,-6 H154 V22 L138,25 L126,20 Z" fill="#b6d2ec"/>
<path d="M136,25 L154,20.5 V26 L142,29 Z" fill="#1c3a6a"/>
<path d="M100,88 C114,80 136,66 154,51 V99 H96 Z" fill="#3a1408"/>
<path d="M50,28 C54,22 66,12 74,4 L76,0 V-6 H99 V0 C98,6 95,14 92,18 L84,17 C80,20 70,22 62,24 Z" fill="#f2d3bf"/>
<path d="M84,-6 H99 V0 C98,6 95,14 93,18 L88,16 Z" fill="#e6b8a0"/>
<path d="M101,86 C104,78 112,66 118,50 C122,42 130,38 154,19 V50 C140,64 130,74 120,80 C114,84 106,88 101,86 Z" fill="#f6e0d4"/>
<path d="M101,86 C106,82 118,76 128,68 C136,62 142,58 154,49.5 V53 C138,66 124,78 112,84 Z" fill="#e0a890"/>
<ellipse cx="44" cy="27" rx="4" ry="2.5" fill="#4a1c10"/>
<ellipse cx="84" cy="62" rx="6" ry="14" fill="#5a2412" opacity="0.6" transform="rotate(20 84 62)"/>
<ellipse cx="20" cy="60" rx="14" ry="18" fill="#a25a38" opacity="0.5"/>
</g>
</svg>
<svg id="photo-rwzi" x="538.2" y="532" width="171.4" height="65.7" viewBox="0 0 171.4 65.7">
<defs>
<linearGradient id="rwsky" x1="0" y1="0" x2="0" y2="1"><stop offset="0" stop-color="#8fb2cf"/><stop offset="1" stop-color="#d4e0e8"/></linearGradient>
<linearGradient id="rwwater" x1="0" y1="0" x2="0" y2="1"><stop offset="0" stop-color="#5585b8"/><stop offset="0.3" stop-color="#2d5c94"/><stop offset="1" stop-color="#264f84"/></linearGradient>
</defs>
<rect width="171.4" height="65.7" fill="#7a9a50"/>
<rect width="171.4" height="8" fill="url(#rwsky)"/>
<g filter="url(#b1)">
<path d="M0,9 C20,6 60,7 90,7 C110,5 140,5 171.4,7 V14 C150,16 120,18 90,19 C60,20 30,20 0,18 Z" fill="#2b6a1c"/>
<path d="M0,12 C6,12 10,16 10,24 L0,27 Z" fill="#2c6424"/>
<path d="M10,18 L60,16 L60,22 L10,25 Z" fill="#86a860"/>
<path d="M60,14 L120,12 L120,20 L60,22 Z" fill="#4e8234"/>
<rect x="68" y="17" width="5.5" height="6" fill="#c8c8c0"/>
<rect x="120" y="14" width="6" height="5" fill="#c4c4bc"/>
<rect x="128" y="12" width="7" height="3.5" fill="#d0d0cc"/>
<rect x="143" y="11.5" width="17" height="3" fill="#c0ccd8"/>
<path d="M0,26 L60,23 L100,22 L132,20 L171.4,17 V22 L130,27 L100,30 L60,31 L0,34 Z" fill="#c4c6c2"/>
<path d="M88,22 L98,21 L98,26 L88,27 Z" fill="#8e98a0"/>
<path d="M100,28 L130,25 L140,34 L150,44 L150,52 L128,48 Z" fill="#9aa860"/>
<path d="M134,22 L171.4,27 V33 L136,29 Z" fill="#a8b8cc"/>
<path d="M136,29 L171.4,33 V36 L138,32 Z" fill="#6a7680"/>
<rect x="133.5" y="22" width="2.6" height="13" fill="#b8c4cc"/>
<ellipse cx="126" cy="25" rx="6" ry="3.5" fill="#2c6424"/>
<path d="M0,35 L22,31 L24,35 L0,41 Z" fill="#5d9038"/>
<path d="M0,42 C20,30 60,27 90,29 C112,31 130,38 134,46 C136,52 132,58 126,62 L118,65.7 H0 Z" fill="#c0c0bc"/>
<path d="M0,44 C20,33 60,30 88,32 C110,34 128,40 131,47 C133,52 128,57 120,60 L100,65.7 H0 Z" fill="url(#rwwater)"/>
<path d="M0,48.2 L76.7,39.5 L76.7,43.2 L0,53.4 Z" fill="#1e3e64"/>
<path d="M0,53.4 L76.7,43.2 L76.7,46.4 L0,57.2 Z" fill="#a8955e"/>
<path d="M0,43.2 L76.7,35.4 L76.7,39.5 L0,48.2 Z" fill="#e8e4cc"/>
<ellipse cx="91" cy="47" rx="9" ry="7" fill="#9cb6d0" transform="rotate(-25 91 47)"/>
<ellipse cx="97" cy="37" rx="4" ry="2" fill="#7ea2c8"/>
<path d="M72,65.7 L114,54 L118,57 L100,65.7 Z" fill="#8a9aac"/>
<path d="M96,65.7 L116,58 L130,65.7 Z" fill="#6e96c0"/>
<path d="M114,58 L128,65.7 H124 L112,59 Z" fill="#1f3f6c"/>
<path d="M118,56 C126,54 132,50 134,46 L134,56 L128,64 Z" fill="#c8c6be"/>
<ellipse cx="148" cy="42" rx="12" ry="8.5" fill="#356e26"/>
<ellipse cx="141" cy="50" rx="5" ry="6" fill="#2a5a20"/>
<ellipse cx="135" cy="58" rx="4" ry="5" fill="#2f6a22"/>
<path d="M146,52 L171.4,50 V60 L150,60 Z" fill="#78a440"/>
<path d="M160,38 L171.4,37 V50 L162,49 Z" fill="#8e8a7e"/>
<path d="M138,60 L158,59 L171.4,60 V65.7 H136 Z" fill="#d6cfc2"/>
<path d="M160,62 L171.4,59 V65.7 H156 Z" fill="#6e665e"/>
<rect x="163" y="32" width="8.4" height="5" fill="#b8bcc4"/>
</g>
<g filter="url(#b1)">
<ellipse cx="60" cy="4.5" rx="14" ry="1.6" fill="#eef2f6"/>
<ellipse cx="120" cy="3.5" rx="22" ry="1.8" fill="#f2f4f6"/>
<ellipse cx="20" cy="5.5" rx="12" ry="1.2" fill="#dfe8f0"/>
</g>
</svg>
<svg id="photo-aerial" x="308" y="562" width="179.6" height="120" viewBox="0 0 179.6 120">
<rect width="179.6" height="120" fill="#84826e"/>
<g filter="url(#b1)">
<path d="M0,0 H179.6 V30 L100,50 L0,40 Z" fill="#7c7a60"/>
<path d="M0,0 H60 L30,12 L0,20 Z" fill="#6e6a54"/>
<path d="M70,2 L120,0 L130,8 L90,16 L60,12 Z" fill="#8c8c6a"/>
<path d="M48,10 L72,7 L80,14 L60,20 Z" fill="#6f8a5a"/>
<ellipse cx="63" cy="10" rx="6" ry="2" fill="#3a5a78"/>
<path d="M130,2 L179.6,0 V16 L140,14 Z" fill="#5e6448"/>
<path d="M64,36 L98,25 L125,18 L179.6,14 V52 L150,62 L110,58 L98,47 Z" fill="#659a4c"/>
<path d="M120,36 L179.6,28 V52 L150,62 L118,56 Z" fill="#7a8a6a"/>
<path d="M11,21.5 L30,12 L45.3,14 L64.4,20.6 L49,27 L32,34 L18.7,27 Z" fill="#a49c9c"/>
<path d="M0,20 L12,22 L20,28 L0,30 Z" fill="#8f8a80"/>
<path d="M33,33 L45,30 L98.6,46 L104,50 L98.6,56.8 L87,56.8 L34,40.6 Z" fill="#68624e"/>
<path d="M43.4,30 L87,17.7 L106,12 L123.4,14 L121.5,19.6 L98.6,24.4 L64.4,35.8 L49,34.8 Z" fill="#625c48"/>
<path d="M0,25 L26,32 L32,37 L28,40 L0,32 Z" fill="#66604c"/>
<path d="M140,8 L179.6,4 V14 L150,18 Z" fill="#56543e"/>
<path d="M0,34 L30,42 L90,60 L88,63 L28,46 L0,38 Z" fill="#5b8a3c"/>
<path d="M0,48.2 L30,46.3 L39.6,54 L26.3,61.5 L0,59.6 Z" fill="#8b8a86"/>
<path d="M0,38 L26,46 L60,56 L80,62 L60,64 L30,48 Z" fill="#8a8a84"/>
<path d="M0,40 L11,39 L13,45 L0,49 Z" fill="#e6e6e6"/>
<path d="M0,46 L12,44 L12,47 L0,50 Z" fill="#2a2c34"/>
<path d="M96,52 L116,55 L116,61 L96,58 Z" fill="#3c5a94"/>
<path d="M118,52 L150,42 L168,40 L179.6,44 V50 L150,56 L130,64 Z" fill="#7c8480"/>
<path d="M150,42 L170,36 L179.6,36 V44 L160,48 Z" fill="#6a7078"/>
</g>
<g filter="url(#b05)">
<ellipse cx="83" cy="37.1" rx="14" ry="3.9" fill="#1c2c5c"/>
<ellipse cx="111.6" cy="28.4" rx="13" ry="3.8" fill="#1c2c5e"/>
<ellipse cx="134.5" cy="21.5" rx="12.4" ry="3.1" fill="#223a78"/>
<ellipse cx="138.6" cy="34.3" rx="13.3" ry="3.8" fill="#21387a"/>
<ellipse cx="161.5" cy="26.7" rx="13" ry="3.4" fill="#21367a"/>
<ellipse cx="110.5" cy="44.8" rx="14.3" ry="4.2" fill="#1e3068"/>
<ellipse cx="163.4" cy="56.8" rx="15.6" ry="5.1" fill="#1f3670"/>
<ellipse cx="178" cy="44" rx="4" ry="2.6" fill="#243a78"/>
<path d="M74,38 L88,35 M104,29 L118,27 M128,22 L140,20 M132,35 L146,33 M156,24 L162,28 M104,46 L118,44 M156,57 L172,55" stroke="#8e98a8" stroke-width="0.9" fill="none"/>
</g>
<g filter="url(#b1)">
<path d="M100,88 L140,84 L170,86 L179.6,84 V120 H110 Z" fill="#8e8a82"/>
<path d="M125,120 L179.6,84 V120 Z" fill="#77745a"/>
<path d="M120,92 L140,90 L150,98 L140,104 L124,100 Z" fill="#5e6448"/>
<path d="M0,94 L45,114 L30,120 H0 Z" fill="#5a8a3a"/>
<path d="M0,102 L30,114 L36,120 H0 Z" fill="#7c7c5e"/>
<path d="M30,104 L60,116 L60,120 H36 Z" fill="#6a6a60"/>
<path d="M50,108 L84,100 L90,120 H56 Z" fill="#2c2c2e"/>
</g>
<g filter="url(#b05)">
<path d="M27.2,59.6 L51,54.3 L77.7,63.8 L54.8,72 Z" fill="#e6e6e6"/>
<path d="M27.2,59.6 L54.8,72 L54.8,78 L27.2,66 Z" fill="#d0d0d0"/>
<path d="M36,60 L46,57 M44,63 L54,60" stroke="#6a6a6a" stroke-width="1.2" fill="none"/>
<path d="M20,64 L30,62 L34,66 L24,68 Z" fill="#3c3c3c"/>
<path d="M54.8,72 L77.7,63.8 L77.7,76 L63.4,82.5 L54.8,80 Z" fill="#dcdcdc"/>
<path d="M63.4,70 L84,61 L98.6,64.4 L90,68 L76,72 Z" fill="#f2f2f2"/>
<path d="M63.4,70 L90,66 L90,92 L63.4,82.5 Z" fill="#ececec"/>
<path d="M90,66 L98.6,64.4 L98.6,93 L90,92 Z" fill="#c4c8cc"/>
<path d="M63.4,70 L70,67.6 L76,70.5 L69,73 Z" fill="#2a4a9a"/>
<rect x="99.6" y="62.5" width="9.4" height="22" rx="2" fill="#e2e2e2"/>
<ellipse cx="104.3" cy="62.8" rx="4.7" ry="1.6" fill="#6a6a6e"/>
<path d="M99.5,66 L101.5,66 L101.5,92 L99.5,92 Z" fill="#5a3a30"/>
<path d="M4,68 L98.6,105.3 L106.3,100.5 L106.3,110 L98.6,114 L4,76 Z" fill="#e9e9ea"/>
<path d="M5.3,66.3 L13,65 L106.3,100.5 L98.6,105.3 Z" fill="#4a5a7c"/>
<path d="M92,101 L104,100 L106,102 L98,106 Z" fill="#2a4a9a"/>
<path d="M0,66 L10,64 L12,67 L0,70 Z" fill="#3a3a3a"/>
<path d="M0,71 L6,72 L54.8,92 L43.4,97.7 L0,82.5 Z" fill="#4b4a47"/>
<path d="M0,82.5 L43.4,97.7 L56,93 L56,104 L44,110 L0,93 Z" fill="#e9e9e9"/>
<path d="M43.4,97.7 L56,93 L56,104 L44,110 Z" fill="#d4d6d8"/>
<path d="M56,92 L76,100 L76,106 L56,98 Z" fill="#c8c8c8"/>
<path d="M50,108 L76,103 L78,107 L54,113 Z" fill="#e0e0e0"/>
<path d="M58,112 L80,106 L92,112 L90,120 H62 Z" fill="#2e2e30"/>
<path d="M104,97 L122,92 L135,98 L108,108 Z" fill="#dcdcdc"/>
<path d="M105,108 L135,98 L136,102 L107,114 Z" fill="#9c4a38"/>
<path d="M100,112 L107,110 L107,116 L100,118 Z" fill="#d8d8d8"/>
<path d="M80,108 L84,107 L86,120 H82 Z" fill="#e0dcd8"/>
<rect x="111" y="68.2" width="12.4" height="12.4" fill="#2f4f8e"/>
<rect x="109" y="78" width="12" height="10" fill="#3a3a40"/>
<rect x="125.3" y="63.4" width="19" height="13.3" fill="#3c3a40"/>
<rect x="123.4" y="76.7" width="13.3" height="10.5" fill="#eeeeee"/>
<rect x="118" y="75" width="6" height="10" fill="#e8e8e8"/>
<rect x="136.7" y="77.5" width="9" height="8" fill="#30508e"/>
<rect x="136" y="84" width="10" height="6" fill="#e6e6e6"/>
<path d="M139.6,73 L148,70.5 L155,73 L155,87 L146,89 L139.6,86 Z" fill="#efefef"/>
<path d="M154,77 L162,75 L164,77 L164,86 L156,88 Z" fill="#e6e6e6"/>
<path d="M148,92 L166,87 L170,90 L154,96 Z" fill="#3e3a36"/>
<path d="M148,94 L154,97 L170,91 L170,93 L154,99 Z" fill="#d8d8d8"/>
<rect x="152" y="60" width="9" height="7" fill="#dcdcdc"/>
<rect x="153" y="63" width="4" height="4" fill="#2a4a9a"/>
<rect x="166.2" y="31" width="2.3" height="55" fill="#a4b4c6"/>
<rect x="170" y="31" width="2.3" height="55" fill="#b4c0d0"/>
<rect x="175" y="62" width="4.6" height="4" fill="#2a4a9a"/>
<rect x="170" y="66" width="9.6" height="4" fill="#dcdcdc"/>
<path d="M104,90 L108,89 L108,92 L104,93 Z" fill="#d86a30"/>
<path d="M0,93 L2,93.5 L2,97 L0,96.5 Z" fill="#c03020"/>
<path d="M27,101 L30,102 L30,106 L27,105 Z" fill="#c03828"/>
</g>
</svg>
<rect x="203.5" y="713.2" width="801.5" height="8.2" rx="1.6" fill="#2f588a"/><rect x="205.3" y="713.2" width="797.9" height="8.2" fill="url(#barg)"/>
<g id="logo"><g fill="none" stroke="#1076bc" stroke-width="1.9">
<circle cx="83.1" cy="697.6" r="14.4"/>
<path d="M97.5,697.6 V712.8"/>
<circle cx="83.1" cy="697.6" r="12.2"/>
<path d="M95.3,697.6 V712.8"/>
<circle cx="83.1" cy="697.6" r="10.0"/>
<path d="M93.1,697.6 V712.8"/>
<circle cx="83.1" cy="697.6" r="7.8"/>
<path d="M90.9,697.6 V712.8"/>
<path d="M101.2,712.8 V697.9 A26.5,26.5 0 0 1 127.7,671.4"/>
<path d="M103.4,712.8 V697.9 A24.3,24.3 0 0 1 127.7,673.6"/>
<path d="M105.6,712.8 V697.9 A22.1,22.1 0 0 1 127.7,675.8"/>
<path d="M107.8,712.8 V697.9 A19.9,19.9 0 0 1 127.7,678.0"/>
<path d="M112.9,712.8 V697.9 A14.8,14.8 0 0 1 142.5,697.9 V712.8"/>
<path d="M115.1,712.8 V697.9 A12.6,12.6 0 0 1 140.3,697.9 V712.8"/>
<path d="M117.3,712.8 V697.9 A10.4,10.4 0 0 1 138.1,697.9 V712.8"/>
<path d="M119.5,712.8 V697.9 A8.2,8.2 0 0 1 135.9,697.9 V712.8"/>
</g>
<text x="101.5" y="743.5" font-size="35.2" font-weight="bold" fill="#1076bc" stroke="#1076bc" stroke-width="1.7" stroke-linejoin="round" text-anchor="middle" textLength="109.6" lengthAdjust="spacingAndGlyphs">ARN BV</text>
<rect x="35.2" y="748.4" width="140.6" height="1" fill="#b4b4b4"/>
<text x="105.1" y="760.7" font-size="14.2" fill="#167abf" stroke="#167abf" stroke-width="0.25" text-anchor="middle" textLength="148.6" lengthAdjust="spacingAndGlyphs">energie en grondstoffen</text>
</g>
</svg>
</body>
</html>
